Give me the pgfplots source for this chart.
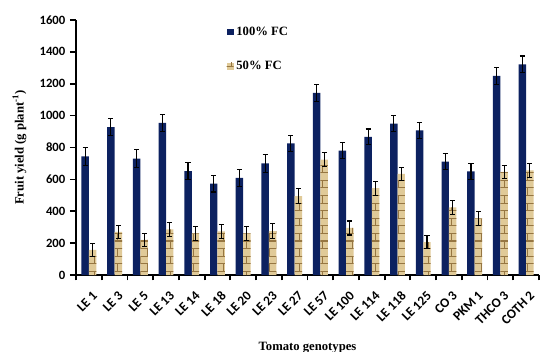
\documentclass[border=0pt]{standalone}
\usepackage{pgfplots}
\pgfplotsset{compat=1.18}
\usepackage{fontspec}
\setmainfont{Liberation Serif}
\setsansfont{Carlito}
\usetikzlibrary{patterns}
\definecolor{navy}{RGB}{12,33,96}
\definecolor{tanfill}{RGB}{224,202,152}
\definecolor{tanline}{RGB}{150,118,66}
\begin{document}
\begin{tikzpicture}
\begin{axis}[
  scale only axis,
  width=347.25pt, height=191.25pt,
  xmin=-0.5, xmax=17.5,
  ymin=0, ymax=1600,
  ytick={0,200,...,1600},
  axis x line*=bottom, axis y line*=left,
  axis line style={line width=1.4pt, -},
  /pgf/number format/assume math mode=true,
  /pgf/number format/1000 sep={},
  ybar=0pt, bar width=5.6pt,
  xtick={0,...,17},
  xticklabels={LE 1,LE 3,LE 5,LE 13,LE 14,LE 18,LE 20,LE 23,LE 27,LE 57,LE 100,LE 114,LE 118,LE 125,CO 3,PKM 1,THCO 3,COTH 2},
  major x tick style={draw=none},
  minor xtick={-0.5,0.5,...,17.5},
  minor x tick style={black, line width=1.4pt},
  minor tick length=4pt,
  y tick style={black, line width=1.2pt},
  major tick length=4.5pt,
  tick align=outside,
  tick label style={font=\sffamily\bfseries\fontsize{9.5}{10}\selectfont},
  x tick label style={rotate=45, anchor=north east, yshift=-3pt, font=\sffamily\bfseries\fontsize{10}{10}\selectfont},
  xlabel={\bfseries Tomato genotypes},
  ylabel={\bfseries Fruit yield (g plant\textsuperscript{-1})},
  label style={font=\fontsize{9.5}{11}\selectfont},
  xlabel style={at={(axis description cs:0.5,-0.285)}, anchor=center},
  ylabel style={at={(axis description cs:-0.122,0.5)}, anchor=center},
  legend cell align=left,
  legend image code/.code={\draw[#1, draw=none] (0pt,-2.6pt) rectangle (5.2pt,2.6pt);},
  legend style={at={(axis description cs:0.325,0.985)}, anchor=north west, draw=none, fill=none,
    row sep=14pt, inner sep=0pt, font=\bfseries\fontsize{9.5}{11}\selectfont},
  error bars/error bar style={black, line width=0.8pt},
  error bars/error mark options={rotate=90, mark size=1.9pt, black, line width=0.8pt},
]
\addplot[fill=navy, draw=none, error bars/.cd, y dir=both, y explicit] coordinates {
(0,745) +- (0,55) (1,928) +- (0,55) (2,730) +- (0,55) (3,955) +- (0,52)
(4,652) +- (0,53) (5,573) +- (0,52) (6,609) +- (0,53) (7,700) +- (0,54)
(8,826) +- (0,52) (9,1142) +- (0,55) (10,780) +- (0,50) (11,866) +- (0,50)
(12,950) +- (0,50) (13,908) +- (0,50) (14,712) +- (0,48) (15,651) +- (0,50)
(16,1249) +- (0,55) (17,1322) +- (0,52)
};
\addlegendentry{100\% FC}
\addplot[fill=tanfill, draw=none, postaction={pattern=bricks, pattern color=tanline}, error bars/.cd, y dir=both, y explicit] coordinates {
(0,157) +- (0,40) (1,270) +- (0,40) (2,220) +- (0,42) (3,286) +- (0,46)
(4,261) +- (0,42) (5,273) +- (0,42) (6,261) +- (0,45) (7,275) +- (0,48)
(8,495) +- (0,45) (9,724) +- (0,45) (10,295) +- (0,44) (11,545) +- (0,44)
(12,634) +- (0,42) (13,207) +- (0,42) (14,425) +- (0,44) (15,356) +- (0,44)
(16,647) +- (0,43) (17,657) +- (0,44)
};
\addlegendentry{50\% FC}
\end{axis}
\pgfresetboundingbox
\path[use as bounding box] (-57pt,-57pt) rectangle (348.75pt,206.25pt);
\end{tikzpicture}
\end{document}
